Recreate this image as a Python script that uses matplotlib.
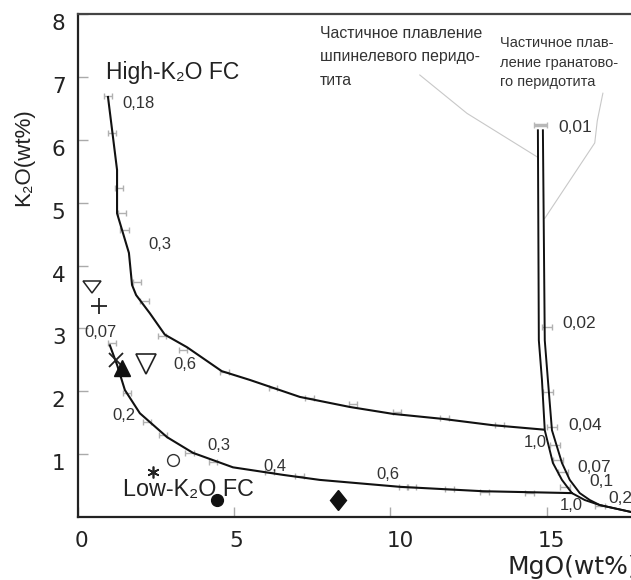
import matplotlib
matplotlib.use("Agg")
import matplotlib.pyplot as plt
from matplotlib.transforms import ScaledTranslation, Affine2D
from matplotlib.markers import MarkerStyle

plt.rcParams['font.family'] = ['Liberation Sans', 'DejaVu Sans']
WIDE = ['DejaVu Sans']

# ---- data ----
high_x = [0.96, 1.25, 1.25, 1.63, 1.73, 1.86, 2.30, 2.78, 3.49, 4.60, 5.50, 7.10, 8.70, 10.08, 11.68, 13.28, 14.90]
high_y = [6.68, 5.52, 4.83, 4.20, 3.69, 3.53, 3.24, 2.90, 2.70, 2.32, 2.18, 1.91, 1.75, 1.64, 1.56, 1.46, 1.39]

low_x = [1.02, 1.25, 1.50, 1.98, 2.85, 3.68, 4.96, 6.56, 7.74, 10.30, 12.96, 15.81]
low_y = [2.73, 2.42, 2.02, 1.65, 1.27, 1.02, 0.79, 0.67, 0.59, 0.48, 0.41, 0.38]

spinel_x = [14.72, 14.75, 14.85, 14.94, 15.20, 15.49, 15.81, 16.22, 16.70, 17.70]
spinel_y = [6.15, 2.81, 2.18, 1.38, 0.86, 0.59, 0.38, 0.27, 0.19, 0.08]
garnet_x = [14.88, 14.94, 15.04, 15.17, 15.49, 15.74, 16.06, 16.38, 16.70, 17.70]
garnet_y = [6.15, 2.81, 2.18, 1.38, 0.86, 0.59, 0.38, 0.27, 0.19, 0.08]

high_err_x = [0.96, 1.09, 1.31, 1.41, 1.50, 1.89, 2.14, 2.69, 3.36, 4.70, 6.24, 7.42, 8.80, 10.21, 11.74, 13.50]
high_err_y = [6.69, 6.10, 5.23, 4.83, 4.56, 3.74, 3.43, 2.88, 2.66, 2.31, 2.05, 1.89, 1.80, 1.67, 1.57, 1.46]
low_err_x = [1.09, 1.57, 2.21, 2.72, 3.58, 4.32, 6.14, 7.10, 10.40, 10.69, 11.90, 13.02, 14.46]
low_err_y = [2.77, 1.97, 1.51, 1.30, 1.02, 0.87, 0.72, 0.65, 0.48, 0.48, 0.45, 0.40, 0.38]
melt_err_x = [15.00, 15.04, 15.17, 15.26, 15.36, 15.52, 15.58, 16.70]
melt_err_y = [3.02, 1.99, 1.43, 1.14, 0.91, 0.72, 0.48, 0.17]
melt_top = (14.80, 6.23)

# sample points
pt_tri_small = (0.45, 3.66)
pt_plus = (0.66, 3.35)
pt_cross = (1.22, 2.50)
pt_tri_filled = (1.41, 2.37)
pt_tri_big = (2.18, 2.43)
pt_star = (2.40, 0.72)
pt_circle_open = (3.04, 0.91)
pt_circle_filled = (4.45, 0.27)
pt_diamond = (8.32, 0.27)

# curve annotations (text, x_left, y_center, size)
annotations = [
    ("0,18", 1.41, 6.58, 12), ("0,3", 2.24, 4.34, 12), ("0,07", 0.22, 2.93, 12),
    ("0,6", 3.04, 2.43, 12), ("0,2", 1.09, 1.61, 12), ("0,3", 4.13, 1.13, 12),
    ("0,4", 5.92, 0.81, 12), ("0,6", 9.54, 0.67, 12),
    ("0,01", 15.36, 6.20, 12.5), ("0,02", 15.49, 3.08, 12.5), ("0,04", 15.71, 1.46, 12.5),
    ("1,0", 14.27, 1.18, 12), ("0,07", 15.97, 0.78, 12.5), ("0,1", 16.38, 0.56, 12.5),
    ("0,2", 16.99, 0.30, 12.5), ("1,0", 15.42, 0.19, 12),
]

spinel_text = ["Частичное плавление", "шпинелевого перидо-", "тита"]
spinel_text_x = 7.74
spinel_text_y = [7.69, 7.32, 6.95]
garnet_text = ["Частичное плав-", "ление гранатово-", "го перидотита"]
garnet_text_x = 13.50
garnet_text_y = [7.54, 7.22, 6.92]

leader1_x = [10.94, 12.45, 14.72]
leader1_y = [7.03, 6.42, 5.72]
leader2_x = [16.80, 16.62, 16.54, 14.94]
leader2_y = [6.74, 6.30, 5.95, 4.75]

x_ticks = [0, 5, 10, 15]
y_ticks = [1, 2, 3, 4, 5, 6, 7, 8]

# ---- figure ----
fig = plt.figure(figsize=(6.31, 5.80), dpi=100)
ax = fig.add_axes([78/631, 63/580, 553/631, 503/580])
ax.set_xlim(0, 17.7)
ax.set_ylim(0, 8)

for s in ['left', 'bottom', 'top']:
    ax.spines[s].set_linewidth(1.6)
    ax.spines[s].set_color('#222222')
ax.spines['top'].set_color('#444444')
ax.spines['right'].set_visible(False)

ax.set_xticks(x_ticks)
ax.set_yticks(y_ticks)
ax.tick_params(direction='in', length=7, width=1, color='#aaaaaa', labelsize=15.5,
               pad=9, labelcolor='#222222')
ax.tick_params(axis='x', pad=10)
for lab in ax.get_yticklabels():
    lab.set_family(WIDE)
    lab.set_transform(lab.get_transform() + ScaledTranslation(0, -8/100, fig.dpi_scale_trans))
for lab, dx in zip(ax.get_xticklabels(), [3, 2, 10, 5]):
    lab.set_family(WIDE)
    lab.set_transform(lab.get_transform() + ScaledTranslation(dx/100, 0, fig.dpi_scale_trans))

# error-bar ticks along curves
ek = dict(fmt='none', ecolor='#b0b0b0', elinewidth=1.0, capsize=2.2, capthick=1.0, zorder=2)
ax.errorbar(high_err_x, high_err_y, xerr=0.14, **ek)
ax.errorbar(low_err_x, low_err_y, xerr=0.14, **ek)
ax.errorbar(melt_err_x, melt_err_y, xerr=0.16, **ek)
ax.errorbar([melt_top[0]], [melt_top[1]], xerr=0.2, fmt='none', ecolor='#b8b8b8',
            elinewidth=2.5, capsize=2.5, capthick=1.0, zorder=2)

# curves
ax.plot(high_x, high_y, color='#111111', lw=1.5, zorder=3)
ax.plot(low_x, low_y, color='#111111', lw=1.5, zorder=3)
ax.plot(spinel_x, spinel_y, color='#111111', lw=1.4, zorder=3)
ax.plot(garnet_x, garnet_y, color='#111111', lw=1.4, zorder=3)

# leader lines
ax.plot(leader1_x, leader1_y, color='#c8c8c8', lw=0.8, zorder=1)
ax.plot(leader2_x, leader2_y, color='#c8c8c8', lw=0.8, zorder=1)

# sample markers
ax.plot(*pt_tri_small, marker=MarkerStyle('v', transform=Affine2D().scale(1.0, 0.7)),
        ms=13, mfc='white', mec='#222222', mew=1.1, ls='none', zorder=4)
ax.plot(*pt_plus, marker='+', ms=12, mec='#222222', mew=1.3, ls='none', zorder=4)
ax.plot(*pt_cross, marker='x', ms=10, mec='#222222', mew=1.3, ls='none', zorder=4)
ax.plot(*pt_tri_filled, marker='^', ms=12, mfc='#111111', mec='#111111', ls='none', zorder=4)
ax.plot(*pt_tri_big, marker='v', ms=14, mfc='white', mec='#222222', mew=1.2, ls='none', zorder=4)
ax.plot(*pt_star, marker=(6, 2, 0), ms=8.5, mec='#222222', mew=1.2, ls='none', zorder=4)
ax.plot(*pt_circle_open, marker='o', ms=8.5, mfc='white', mec='#333333', mew=1.0, ls='none', zorder=4)
ax.plot(*pt_circle_filled, marker='o', ms=8.5, mfc='#111111', mec='#111111', ls='none', zorder=5)
ax.plot(*pt_diamond, marker=MarkerStyle('D', transform=Affine2D().scale(0.8, 1.0)),
        ms=10, mfc='#111111', mec='#111111', ls='none', zorder=4)

# texts
ax.text(0.90, 7.07, "High-K₂O FC", fontsize=16.5, ha='left', va='center', color='#222222')
ax.text(1.44, 0.43, "Low-K₂O FC", fontsize=16.8, ha='left', va='center', color='#222222', zorder=4)
for t, x, y, s in annotations:
    ax.text(x, y, t, fontsize=s, ha='left', va='center', color='#333333', zorder=4)
for t, y in zip(spinel_text, spinel_text_y):
    ax.text(spinel_text_x, y, t, fontsize=11.4, ha='left', va='center', color='#333333')
for t, y in zip(garnet_text, garnet_text_y):
    ax.text(garnet_text_x, y, t, fontsize=10.5, ha='left', va='center', color='#333333')

ax.text(-0.098, 0.716, "K₂O(wt%)", rotation=90, fontsize=16, ha='center', va='center',
        transform=ax.transAxes, color='#222222')
fig.text(508/631, 1 - 567/580, "MgO(wt%)", fontsize=18, family=WIDE,
         ha='left', va='center', color='#222222')

fig.savefig("out.png", dpi=100)
